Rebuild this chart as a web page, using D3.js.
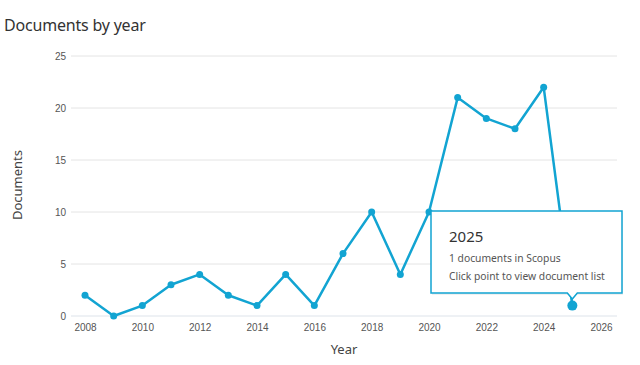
<!DOCTYPE html>
<html>
<head>
<meta charset="utf-8">
<script src="https://cdn.jsdelivr.net/npm/d3@7"></script>
<style>
  body { margin: 0; background: #fff; font-family: "Noto Sans", "Open Sans", sans-serif; }
  svg text { fill: #505050; }
</style>
</head>
<body>
<div id="chartArea"></div>
<script>
// documents per year
const years = [2008, 2009, 2010, 2011, 2012, 2013, 2014, 2015, 2016, 2017, 2018, 2019, 2020, 2021, 2022, 2023, 2024, 2025];
const docs = [2, 0, 1, 3, 4, 2, 1, 4, 1, 6, 10, 4, 10, 21, 19, 18, 22, 1];
const yTicks = [0, 5, 10, 15, 20, 25];
const xTicks = [2008, 2010, 2012, 2014, 2016, 2018, 2020, 2022, 2024, 2026];
const hoverYear = 2025;

const width = 640, height = 365;
const blue = "#12a4d2";

let svg = d3.select('#chartArea').append('svg')
   .attr('width', width)
   .attr('height', height);

let x = d3.scaleLinear().domain([2008, 2026]).range([85, 601]);
let y = d3.scaleLinear().domain([0, 25]).range([316, 56]);

// title
svg.append("text")
   .attr("x", 4).attr("y", 31)
   .attr("font-size", 16)
   .attr("letter-spacing", -0.2)
   .style("fill", "#333")
   .text("Documents by year");

// gridlines
svg.append("g").selectAll("line").data(yTicks)
   .enter().append("line")
   .attr("x1", 71).attr("x2", 617)
   .attr("y1", d => y(d)).attr("y2", d => y(d))
   .attr("stroke", d => d === 0 ? "#dde3ea" : "#e4e4e4")
   .attr("stroke-width", 1);

// y axis labels
let yAxis = svg.append("g")
   .attr("transform", "translate(66,0)")
   .call(d3.axisLeft(y).tickValues(yTicks).tickSize(0).tickPadding(0));
yAxis.select(".domain").remove();
yAxis.selectAll("text").attr("font-size", 10).attr("font-family", "inherit").style("fill", "#555");

// x axis labels
let xAxis = svg.append("g")
   .attr("transform", "translate(0,320)")
   .call(d3.axisBottom(x).tickValues(xTicks).tickFormat(d3.format("d")).tickSize(0).tickPadding(4));
xAxis.select(".domain").remove();
xAxis.selectAll("text").attr("font-size", 10).attr("font-family", "inherit").style("fill", "#555");

// axis titles
svg.append("text")
   .attr("transform", "translate(22,185) rotate(-90)")
   .attr("text-anchor", "middle")
   .attr("font-size", 13)
   .style("fill", "#444")
   .text("Documents");
svg.append("text")
   .attr("x", 344).attr("y", 354)
   .attr("text-anchor", "middle")
   .attr("font-size", 13)
   .style("fill", "#444")
   .text("Year");

// line
let data = years.map((yr, i) => ({ year: yr, value: docs[i] }));
svg.append("path")
   .datum(data)
   .attr("fill", "none")
   .attr("stroke", blue)
   .attr("stroke-width", 2.5)
   .attr("stroke-linejoin", "round")
   .attr("d", d3.line().x(d => x(d.year)).y(d => y(d.value)));

svg.append("g").selectAll("circle").data(data)
   .enter().append("circle")
   .attr("cx", d => x(d.year))
   .attr("cy", d => y(d.value))
   .attr("r", d => d.year === hoverYear ? 5 : 3.5)
   .attr("fill", blue);

// tooltip
let hov = data.find(d => d.year === hoverYear);
let px = x(hov.year), py = y(hov.value);
let tx = 431, ty = 211, tw = 191, th = 82;
let tip = svg.append("g");
tip.append("rect")
   .attr("x", tx + 1).attr("y", ty + 2).attr("width", tw).attr("height", th)
   .attr("fill", "rgba(0,0,0,0.06)");
tip.append("path")
   .attr("d", `M${tx},${ty} H${tx + tw} V${ty + th} H${px + 5} L${px},${ty + th + 6} L${px - 5},${ty + th} H${tx} Z`)
   .attr("fill", "#fff")
   .attr("stroke", blue)
   .attr("stroke-width", 1.5);
tip.append("text")
   .attr("x", tx + 18).attr("y", ty + 31)
   .attr("font-size", 15)
   .style("fill", "#333")
   .text(hov.year);
tip.append("text")
   .attr("x", tx + 18).attr("y", ty + 51)
   .attr("font-size", 10.3)
   .style("fill", "#555")
   .text(`${hov.value} documents in Scopus`);
tip.append("text")
   .attr("x", tx + 18).attr("y", ty + 69)
   .attr("font-size", 10.3)
   .style("fill", "#555")
   .text("Click point to view document list");
</script>
</body>
</html>
